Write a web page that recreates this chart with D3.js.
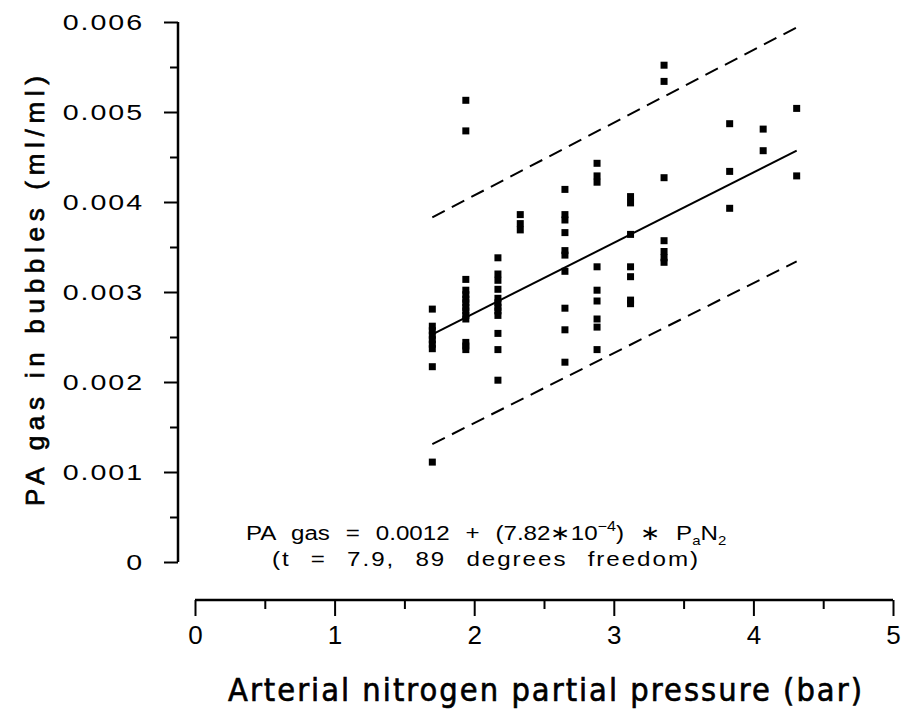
<!DOCTYPE html>
<meta charset="utf-8">
<style>
body { margin: 0; background: #fff; }
text { fill: #000; }
.tick text { font-family: Arial, "Liberation Sans", sans-serif; }
</style>
<svg width="904" height="713"></svg>
<script src="https://cdn.jsdelivr.net/npm/d3@7"></script>
<script>

// pressure columns (bar) and the measured PA gas values at each of them
var pressures = [1.70, 1.94, 2.17, 2.33, 2.65, 2.88, 3.12, 3.36, 3.83, 4.07, 4.31];
var gasValues = [
  [0.00281, 0.00262, 0.00257, 0.00252, 0.00247, 0.00242, 0.00237, 0.00217, 0.00111],
  [0.00513, 0.00479, 0.00314, 0.00302, 0.00297, 0.00292, 0.00288, 0.00283, 0.00279, 0.00274, 0.00270, 0.00244, 0.00240, 0.00236],
  [0.00338, 0.00320, 0.00313, 0.00303, 0.00293, 0.00288, 0.00283, 0.00279, 0.00274, 0.00254, 0.00236, 0.00202],
  [0.00386, 0.00376, 0.00369],
  [0.00414, 0.00386, 0.00380, 0.00366, 0.00346, 0.00341, 0.00323, 0.00282, 0.00258, 0.00222],
  [0.00443, 0.00429, 0.00422, 0.00328, 0.00302, 0.00290, 0.00270, 0.00261, 0.00236],
  [0.00406, 0.00399, 0.00364, 0.00328, 0.00317, 0.00291, 0.00287],
  [0.00552, 0.00534, 0.00427, 0.00357, 0.00345, 0.00338, 0.00333],
  [0.00487, 0.00434, 0.00393],
  [0.00481, 0.00457],
  [0.00504, 0.00429]
];

// regression PA gas = 0.0012 + 7.82e-4 * PaN2, and the dashed band ends
var intercept = 0.0012, slope = 7.82e-4;
var fitRange = [1.70, 4.31];
var upperBand = [[1.70, 0.00383], [4.31, 0.00594]];
var lowerBand = [[1.70, 0.00131], [4.31, 0.00334]];

var xTicks = [0, 1, 2, 3, 4, 5];
var yTicks = [0, 0.001, 0.002, 0.003, 0.004, 0.005, 0.006];

var svg = d3.select("svg");

var x = d3.scaleLinear().domain([0, 5]).range([195, 893]);
var y = d3.scaleLinear().domain([0, 0.006]).range([562, 22]);

var points = [];
pressures.forEach(function(p, i) {
  gasValues[i].forEach(function(v) { points.push({p: p, v: v}); });
});

// spread letters so a text takes a given width (in its own units)
function fitWidth(sel, target) {
  sel.attr("letter-spacing", 0);
  var w = sel.node().getBBox().width;
  var n = sel.text().length;
  sel.attr("letter-spacing", Math.max(0, (target - w) / n));
}

// y axis, labels a bit widened like the original face
var labStretch = 1.3;
var yAxis = svg.append("g").attr("transform", "translate(178,0)")
    .call(d3.axisLeft(y).tickValues(yTicks).tickSize(14).tickPadding(14)
      .tickFormat(function(d) { return d === 0 ? "0" : d3.format(".3f")(d); }));
yAxis.select(".domain").attr("stroke-width", 2.5).attr("d", "M0," + y(0) + "V" + y(0.006));
yAxis.selectAll(".tick line").attr("stroke-width", 2);
yAxis.selectAll(".tick text")
    .attr("font-size", 22).attr("letter-spacing", 1.5).attr("dy", "0.35em")
    .attr("x", -34 / labStretch)
    .attr("transform", "scale(" + labStretch + ",1)");

var yMinor = svg.append("g").attr("transform", "translate(178,0)")
    .call(d3.axisLeft(y).tickValues(d3.range(0.0005, 0.006, 0.001)).tickSize(8).tickFormat(""));
yMinor.select(".domain").remove();
yMinor.selectAll(".tick line").attr("stroke-width", 2);

// x axis
var xAxis = svg.append("g").attr("transform", "translate(0,600)")
    .call(d3.axisBottom(x).tickValues(xTicks).tickSize(16).tickPadding(10).tickFormat(d3.format("d")));
xAxis.select(".domain").attr("stroke-width", 2.5).attr("d", "M" + x(0) + ",0H" + x(5));
xAxis.selectAll(".tick line").attr("stroke-width", 2);
xAxis.selectAll(".tick text")
    .attr("font-family", "'DejaVu Sans Condensed', 'Liberation Sans Narrow', Arial, sans-serif")
    .attr("font-size", 26);

var xMinor = svg.append("g").attr("transform", "translate(0,600)")
    .call(d3.axisBottom(x).tickValues(d3.range(0.5, 5, 1)).tickSize(9).tickFormat(""));
xMinor.select(".domain").remove();
xMinor.selectAll(".tick line").attr("stroke-width", 2);

// regression and band lines
var line = d3.line().x(function(d) { return x(d[0]); }).y(function(d) { return y(d[1]); });

svg.append("path")
    .datum(fitRange.map(function(p) { return [p, intercept + slope * p]; }))
    .attr("d", line).attr("fill", "none").attr("stroke", "#000").attr("stroke-width", 2);

[upperBand, lowerBand].forEach(function(b) {
  svg.append("path").datum(b).attr("d", line)
      .attr("fill", "none").attr("stroke", "#000").attr("stroke-width", 2)
      .attr("stroke-dasharray", "14,8");
});

// points
svg.append("g").selectAll("rect")
    .data(points)
  .enter().append("rect")
    .attr("x", function(d) { return x(d.p) - 3.5; })
    .attr("y", function(d) { return y(d.v) - 3.5; })
    .attr("width", 7).attr("height", 7)
    .attr("fill", "#000");

// axis titles
svg.append("text")
    .attr("transform", "translate(44,291) rotate(-90)")
    .attr("text-anchor", "middle")
    .attr("font-family", "Arial, 'Liberation Sans', sans-serif")
    .attr("font-size", 26)
    .attr("stroke", "#000").attr("stroke-width", 0.7)
    .attr("textLength", 430).attr("lengthAdjust", "spacing")
    .text("PA gas in bubbles (ml/ml)");

svg.append("text")
    .attr("x", 546).attr("y", 701)
    .attr("text-anchor", "middle")
    .attr("font-family", "'DejaVu Sans Condensed', 'Liberation Sans Narrow', Arial, sans-serif")
    .attr("font-size", 32)
    .attr("stroke", "#000").attr("stroke-width", 0.6)
    .attr("letter-spacing", 2)
    .attr("textLength", 636).attr("lengthAdjust", "spacingAndGlyphs")
    .text("Arterial nitrogen partial pressure (bar)");

// equation, slightly stretched glyphs like the original
var stretch = 1.15;
var eq = svg.append("text")
    .attr("transform", "translate(246,540) scale(" + stretch + ",1)")
    .attr("font-family", "Arial, 'Liberation Sans', sans-serif")
    .attr("font-size", 21)
    .attr("word-spacing", 8);
eq.append("tspan").text("PA gas = 0.0012 + (7.82\u221710");
eq.append("tspan").attr("dy", -9).attr("font-size", 14).text("\u22124");
eq.append("tspan").attr("dy", 9).text(") \u2217 P");
eq.append("tspan").attr("dy", 5).attr("font-size", 13).text("a");
eq.append("tspan").attr("dy", -5).text("N");
eq.append("tspan").attr("dy", 5).attr("font-size", 13).text("2");
fitWidth(eq, 458 / stretch);

var stats = svg.append("text")
    .attr("transform", "translate(272,566) scale(" + stretch + ",1)")
    .attr("font-family", "Arial, 'Liberation Sans', sans-serif")
    .attr("font-size", 21)
    .attr("word-spacing", 10)
    .text("(t = 7.9, 89 degrees freedom)");
fitWidth(stats, 428 / stretch);

</script>
